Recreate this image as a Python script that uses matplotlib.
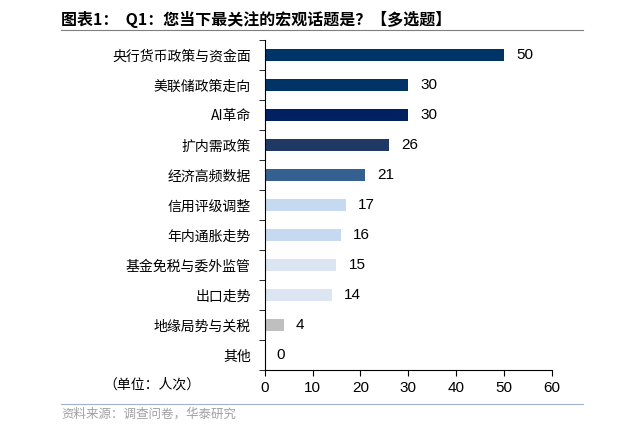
import matplotlib.pyplot as plt
import numpy as np

plt.rcParams['font.family'] = ['Noto Sans CJK SC', 'DejaVu Sans']

categories = ['央行货币政策与资金面', '美联储政策走向', 'AI革命', '扩内需政策', '经济高频数据',
              '信用评级调整', '年内通胀走势', '基金免税与委外监管', '出口走势', '地缘局势与关税', '其他']
values = [50, 30, 30, 26, 21, 17, 16, 15, 14, 4, 0]
colors = ['#003366', '#003366', '#002060', '#1F3864', '#366092', '#C5D9F1', '#C5D9F1',
          '#DCE6F2', '#DCE6F2', '#BFBFBF', '#BFBFBF']

fig = plt.figure(figsize=(6.44, 4.34), dpi=100)
ax = fig.add_axes([0.411, 0.147, 0.446, 0.761])

y = np.arange(len(categories))
ax.barh(y, values, height=0.4, color=colors)
for yi, v in zip(y, values):
    ax.text(v + 2.5, yi, str(v), va='center', ha='left', fontsize=11, family='Liberation Sans')

ax.set_ylim(len(categories) - 0.5, -0.5)
ax.set_yticks(y)
ax.set_yticklabels(categories, fontsize=10)
ax.set_yticks(np.arange(-0.5, len(categories), 1), minor=True)
ax.tick_params(axis='y', which='major', length=0, pad=10)
ax.tick_params(axis='y', which='minor', length=4, direction='out')
ax.set_xlim(0, 60)
ax.set_xticks(range(0, 61, 10))
ax.tick_params(axis='x', labelsize=11, length=4)
for lbl in ax.get_xticklabels():
    lbl.set_family('Liberation Sans')
for s in ['top', 'right']:
    ax.spines[s].set_visible(False)

fig.text(0.16, 0.115, '（单位：人次）', fontsize=10, ha='left', va='center')
fig.text(0.095, 0.955, '图表1：  Q1：您当下最关注的宏观话题是？【多选题】', fontsize=11.5,
         fontweight='bold', ha='left', va='center')
fig.add_artist(plt.Line2D([0.095, 0.905], [0.93, 0.93], color='#7F7F7F', lw=0.8))
fig.add_artist(plt.Line2D([0.095, 0.905], [0.07, 0.07], color='#9DB3D1', lw=0.8))
fig.text(0.095, 0.045, '资料来源：调查问卷，华泰研究', fontsize=9, color='#A0A0A0', ha='left', va='center')

fig.savefig('out.png', dpi=100)
